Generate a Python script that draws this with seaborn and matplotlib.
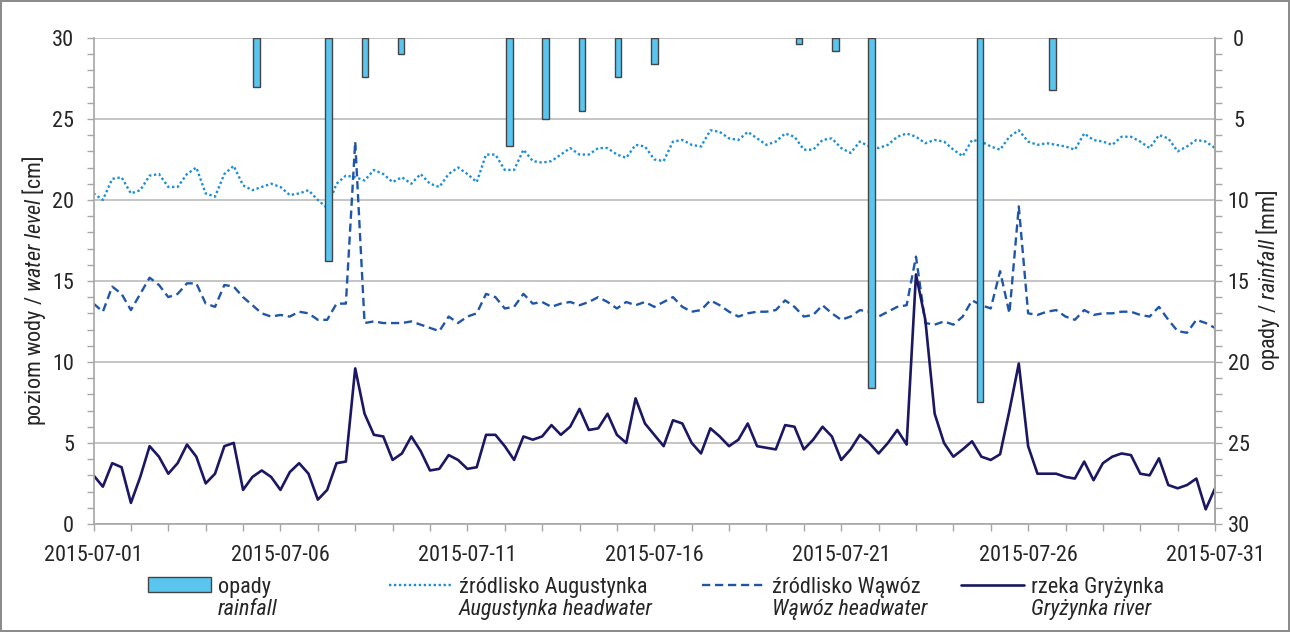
import pandas as pd
import matplotlib.pyplot as plt
import matplotlib.dates as mdates
from matplotlib import font_manager
from matplotlib.ticker import MultipleLocator
from matplotlib.patches import Patch
from matplotlib.lines import Line2D
import seaborn as sns

# daily rainfall, 1-31 July 2015 [mm]
rain_days = list(range(1, 32))
rainfall = [0, 0, 0, 0, 3.0, 0, 13.8, 2.4, 1.0, 0, 0, 6.7, 5.0, 4.5, 2.4, 1.6,
            0, 0, 0, 0.4, 0.8, 21.6, 0, 0, 22.5, 0, 3.2, 0, 0, 0, 0]

# water level [cm], read every 6 h from 2015-07-01 00:00 to 2015-07-31 00:00
augustynka = [
    20.4, 20.0, 21.3, 21.4,  20.4, 20.6, 21.5, 21.6,  20.8, 20.8, 21.6, 22.0,
    20.4, 20.2, 21.6, 22.1,  20.9, 20.6, 20.8, 21.0,  20.8, 20.3, 20.4, 20.6,
    20.0, 19.5, 21.0, 21.5,  21.4, 21.2, 21.85, 21.6, 21.1, 21.4, 21.0, 21.6,
    21.0, 20.8, 21.6, 22.0,  21.6, 21.1, 22.8, 22.8,  21.85, 21.85, 23.1, 22.4,
    22.3, 22.4, 22.8, 23.2,  22.8, 22.8, 23.2, 23.2,  22.8, 22.6, 23.4, 23.3,
    22.5, 22.4, 23.6, 23.7,  23.4, 23.3, 24.3, 24.2,  23.8, 23.7, 24.2, 23.8,
    23.4, 23.6, 24.1, 23.9,  23.1, 23.1, 23.7, 23.8,  23.2, 22.9, 23.6, 23.3,
    23.2, 23.4, 23.9, 24.1,  23.9, 23.5, 23.7, 23.6,  23.1, 22.7, 23.7, 23.6,
    23.3, 23.1, 23.9, 24.3,  23.6, 23.4, 23.5, 23.4,  23.3, 23.1, 24.1, 23.7,
    23.6, 23.4, 23.9, 23.9,  23.6, 23.2, 24.0, 23.8,  23.0, 23.3, 23.7, 23.6,
    23.2]
wawoz = [
    13.6, 13.1, 14.65, 14.2, 13.2, 14.2, 15.2, 14.75, 14.0, 14.2, 14.85, 14.85,
    13.6, 13.4, 14.75, 14.65, 14.0, 13.5, 13.0, 12.8, 12.9, 12.8, 13.1, 13.0,
    12.6, 12.6, 13.6, 13.6,  23.6, 12.4, 12.5, 12.4,  12.4, 12.4, 12.5, 12.3,
    12.1, 11.9, 12.8, 12.4,  12.8, 13.0, 14.2, 14.0,  13.3, 13.4, 14.2, 13.6,
    13.7, 13.4, 13.6, 13.7,  13.5, 13.7, 14.0, 13.7,  13.3, 13.7, 13.5, 13.7,
    13.4, 13.7, 14.0, 13.4,  13.1, 13.2, 13.8, 13.5,  13.1, 12.8, 13.0, 13.1,
    13.1, 13.2, 13.8, 13.4,  12.8, 12.9, 13.5, 13.0,  12.6, 12.8, 13.2, 13.1,
    12.8, 13.1, 13.4, 13.5,  16.5, 12.4, 12.3, 12.5,  12.3, 12.8, 13.8, 13.5,
    13.3, 15.6, 13.0, 19.6,  13.0, 12.9, 13.1, 13.2,  12.8, 12.6, 13.2, 12.9,
    13.0, 13.0, 13.1, 13.1,  12.9, 12.8, 13.4, 12.6,  11.9, 11.8, 12.6, 12.4,
    12.1]
gryzynka = [
    3.0, 2.3, 3.75, 3.5,   1.3, 2.9, 4.8, 4.15,   3.1, 3.75, 4.9, 4.15,
    2.5, 3.1, 4.8, 5.0,    2.1, 2.9, 3.3, 2.9,    2.1, 3.2, 3.75, 3.1,
    1.5, 2.1, 3.75, 3.85,  9.6, 6.8, 5.5, 5.4,    3.95, 4.35, 5.4, 4.5,
    3.3, 3.4, 4.25, 3.95,  3.4, 3.5, 5.5, 5.5,    4.8, 3.95, 5.4, 5.2,
    5.4, 6.1, 5.5, 6.0,    7.1, 5.8, 5.9, 6.8,    5.5, 5.0, 7.75, 6.2,
    5.5, 4.8, 6.4, 6.2,    5.0, 4.35, 5.9, 5.4,   4.8, 5.2, 6.2, 4.8,
    4.7, 4.6, 6.1, 6.0,    4.6, 5.2, 6.0, 5.4,    3.95, 4.6, 5.5, 5.0,
    4.35, 5.0, 5.8, 4.9,   15.4, 12.6, 6.8, 5.0,  4.15, 4.6, 5.1, 4.15,
    3.95, 4.3, 7.0, 9.9,   4.8, 3.1, 3.1, 3.1,    2.9, 2.8, 3.85, 2.7,
    3.75, 4.15, 4.35, 4.25, 3.1, 3.0, 4.05, 2.4,  2.2, 2.4, 2.8, 0.9,
    2.2]

series_pl = ['źródlisko Augustynka', 'źródlisko Wąwóz', 'rzeka Gryżynka']
series_en = ['Augustynka headwater', 'Wąwóz headwater', 'Gryżynka river']


def pick_font():
    # the original uses a narrow sans; take one if the machine has it
    fl = font_manager.fontManager.ttflist
    names = {f.name for f in fl}
    for n in ['Liberation Sans Narrow', 'Arial Narrow', 'Roboto Condensed',
              'Open Sans Condensed', 'Noto Sans Condensed', 'DejaVu Sans Condensed']:
        if n in names:
            return n, 'normal', True
    for f in fl:
        if f.name in ('DejaVu Sans', 'Noto Sans', 'Roboto', 'Open Sans') and \
                f.stretch in ('condensed', 'semi-condensed'):
            return f.name, f.stretch, True
    return 'Liberation Sans', 'normal', False


sns.set_style('white')
fam, stretch, narrow = pick_font()
plt.rcParams['font.family'] = [fam, 'DejaVu Sans']
plt.rcParams['font.stretch'] = stretch
plt.rcParams['mathtext.fontset'] = 'custom'
plt.rcParams['mathtext.rm'] = fam
plt.rcParams['mathtext.it'] = fam + ':italic'
fs = 16 if narrow else 14

times = pd.date_range('2015-07-01', periods=len(augustynka), freq='6h')
df = pd.DataFrame({'time': times, series_pl[0]: augustynka,
                   series_pl[1]: wawoz, series_pl[2]: gryzynka})
df = df.melt('time', var_name='series', value_name='level')

looks = {
    series_pl[0]: dict(color='#1b8fd6', lw=1.7, ls=(0, (1, 1.1))),
    series_pl[1]: dict(color='#1f56a8', lw=1.7, ls=(0, (3.5, 2))),
    series_pl[2]: dict(color='#1b1763', lw=1.9, ls='-'),
}
rain_face, rain_edge = '#5ac6f0', '#444444'
gray = '#a6a6a6'

fig = plt.figure(figsize=(12.9, 6.32), dpi=100, linewidth=1.5, edgecolor='#8c8c8c')
ax = fig.add_axes([0.0725, 0.171, 0.8694, 0.769])

for name in series_pl:
    lk = looks[name]
    sns.lineplot(data=df[df.series == name], x='time', y='level', ax=ax,
                 color=lk['color'], linewidth=lk['lw'], linestyle=lk['ls'],
                 errorbar=None)

ax.set_xlim(pd.Timestamp('2015-07-01'), pd.Timestamp('2015-07-31'))
ax.xaxis.set_major_locator(mdates.DayLocator(bymonthday=[1, 6, 11, 16, 21, 26, 31]))
ax.xaxis.set_major_formatter(mdates.DateFormatter('%Y-%m-%d'))
ax.xaxis.set_minor_locator(mdates.DayLocator())
ax.set_ylim(0, 30)
ax.yaxis.set_major_locator(MultipleLocator(5))
ax.yaxis.set_minor_locator(MultipleLocator(1))
ax.grid(axis='y', color='#c0c0c0', lw=1.3)
ax.set_axisbelow(True)
ax.tick_params(which='both', direction='out', length=5, width=1, color=gray,
               labelsize=fs, left=True, bottom=True)
ax.tick_params(axis='x', pad=10)
ax.tick_params(axis='y', pad=9)
for s in ax.spines.values():
    s.set_color(gray)
    s.set_linewidth(1.2)
ax.spines['top'].set_visible(False)
ax.set_xlabel('')
ax.set_ylabel(r'poziom wody / $\mathit{water\ level}$ [cm]', fontsize=fs)
ax.yaxis.set_label_coords(-0.041, 0.48)

# rainfall on its own daily category axis, inverted, right side
ax2 = fig.add_axes(ax.get_position(), facecolor='none')
sns.barplot(x=rain_days, y=rainfall, ax=ax2, color=rain_face, saturation=1,
            width=0.185, edgecolor=rain_edge, linewidth=1)
for p in ax2.patches:
    if p.get_height() == 0:
        p.set_visible(False)
ax2.set_xlim(-0.5, 30.5)
ax2.set_ylim(30, 0)
ax2.xaxis.set_visible(False)
ax2.yaxis.tick_right()
ax2.yaxis.set_label_position('right')
ax2.yaxis.set_major_locator(MultipleLocator(5))
ax2.yaxis.set_minor_locator(MultipleLocator(1))
ax2.tick_params(which='both', direction='out', length=5, width=1, color=gray,
                labelsize=fs, right=True, pad=12)
for lab in ax2.get_yticklabels():
    lab.set_horizontalalignment('center')
for k, s in ax2.spines.items():
    s.set_visible(k == 'right')
    s.set_color(gray)
    s.set_linewidth(1.2)
ax2.set_ylabel(r'opady / $\mathit{rainfall}$ [mm]', fontsize=fs)
ax2.yaxis.set_label_coords(1.035, 0.5)

# legend: Polish name next to the key, English name in italics below it
handles = [Patch(facecolor=rain_face, edgecolor=rain_edge, lw=1)]
for name in series_pl:
    lk = looks[name]
    handles.append(Line2D([], [], color=lk['color'], lw=lk['lw'], ls=lk['ls']))
labels_pl = ['opady'] + series_pl
labels_en = ['rainfall'] + series_en
x_keys = [148, 389, 702, 961]
for h, lp, le, xk in zip(handles, labels_pl, labels_en, x_keys):
    fig.legend([h], [lp], loc='center left', bbox_to_anchor=(xk / 1290, 0.0712),
               frameon=False, borderpad=0, borderaxespad=0, fontsize=fs,
               handlelength=63 / (fs * 1.389), handleheight=0.65, handletextpad=0.3)
    fig.text((xk + 70) / 1290, 0.035, le, fontsize=fs, style='italic',
             va='center', ha='left')

fig.savefig('out.png', dpi=100)
